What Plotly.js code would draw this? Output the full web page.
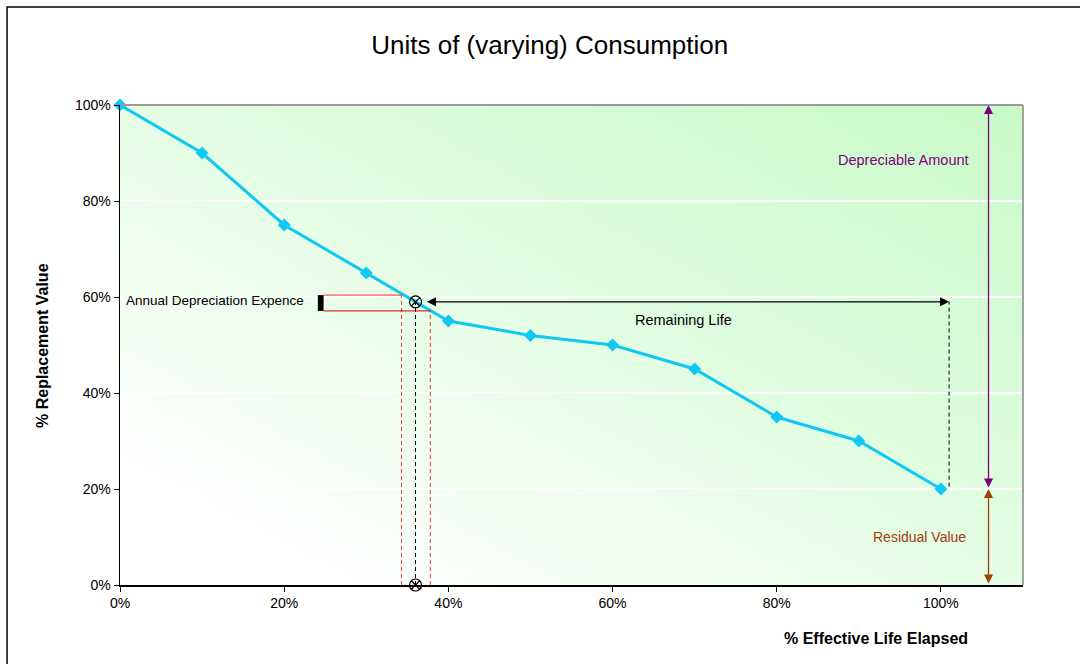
<!DOCTYPE html>
<html>
<head>
<meta charset="utf-8">
<script src="https://cdn.plot.ly/plotly-3.0.1.min.js"></script>
<style>
html,body{margin:0;padding:0;background:#fff;}
#chart{width:1080px;height:664px;}
</style>
</head>
<body>
<div id="chart"></div>
<script>
// Data
var lifeElapsed = [0, 0.1, 0.2, 0.3, 0.4, 0.5, 0.6, 0.7, 0.8, 0.9, 1.0];
var replacementValue = [1.0, 0.9, 0.75, 0.65, 0.55, 0.52, 0.50, 0.45, 0.35, 0.30, 0.20];
var currentPoint = [0.36, 0.59];
var residualValue = 0.20;
var xTickVals = [0, 0.2, 0.4, 0.6, 0.8, 1.0];
var xTickText = ['0%', '20%', '40%', '60%', '80%', '100%'];
var yTickVals = [0, 0.2, 0.4, 0.6, 0.8, 1.0];
var yTickText = ['0%', '20%', '40%', '60%', '80%', '100%'];

// gradient background image (white bottom-left -> light green top-right)
var W = 301, H = 160;
var cv = document.createElement('canvas');
cv.width = W; cv.height = H;
var ctx = cv.getContext('2d');
var img = ctx.createImageData(W, H);
function lerp(a, b, t) { return a + (b - a) * t; }
for (var j = 0; j < H; j++) {
  for (var i = 0; i < W; i++) {
    var u = i / (W - 1), v = 1 - j / (H - 1);
    var t = (u + v) / 2;
    var r, gg, b;
    if (t < 0.12) { r = 255; gg = 255; b = 255; }
    else if (t < 0.5) { var s = (t - 0.12) / 0.38; r = lerp(255, 228, s); gg = lerp(255, 253, s); b = lerp(255, 228, s); }
    else { var s2 = (t - 0.5) / 0.5; r = lerp(228, 200, s2); gg = lerp(253, 250, s2); b = lerp(228, 200, s2); }
    var k = (j * W + i) * 4;
    img.data[k] = r; img.data[k + 1] = gg; img.data[k + 2] = b; img.data[k + 3] = 255;
  }
}
ctx.putImageData(img, 0, 0);
var bgImg = cv.toDataURL('image/png');

var font = 'Liberation Sans, Arial, sans-serif';

var traces = [
  {
    x: lifeElapsed, y: replacementValue, type: 'scatter', mode: 'lines+markers',
    line: {color: '#11c8f5', width: 3},
    marker: {symbol: 'diamond', size: 10, color: '#11c8f5'},
    cliponaxis: false, hoverinfo: 'none'
  },
  {
    x: [currentPoint[0], currentPoint[0]], y: [currentPoint[1], 0], type: 'scatter', mode: 'markers',
    marker: {symbol: 'circle-x-open', size: 12, color: '#000', line: {width: 1.2, color: '#000'}},
    cliponaxis: false, hoverinfo: 'none'
  }
];

var shapes = [
  // outer frame
  {type: 'rect', xref: 'paper', yref: 'paper', x0: -0.1251, x1: 1.2, y0: -0.3, y1: 1.2042, line: {color: '#000', width: 1.5}, layer: 'below'},
  // top and right border of plot
  {type: 'line', xref: 'paper', yref: 'paper', x0: 0, x1: 1, y0: 1, y1: 1, line: {color: '#9a9a9a', width: 1.8}},
  {type: 'line', xref: 'paper', yref: 'paper', x0: 1, x1: 1, y0: 0, y1: 1, line: {color: '#9a9a9a', width: 1.8}},
  // black dashed vertical at current point
  {type: 'line', x0: currentPoint[0], x1: currentPoint[0], y0: 0, y1: currentPoint[1], line: {color: '#000', width: 1, dash: '4px,3px'}},
  // red dashed verticals
  {type: 'line', x0: 0.343, x1: 0.343, y0: 0, y1: 0.604, line: {color: '#ff3030', width: 1, dash: '4px,3px'}},
  {type: 'line', x0: 0.378, x1: 0.378, y0: 0, y1: 0.571, line: {color: '#ff3030', width: 1, dash: '4px,3px'}},
  // red solid horizontals
  {type: 'line', x0: 0.248, x1: 0.343, y0: 0.604, y1: 0.604, line: {color: '#ff3333', width: 1}},
  {type: 'line', x0: 0.248, x1: 0.378, y0: 0.571, y1: 0.571, line: {color: '#cc0000', width: 1}},
  // black block
  {type: 'rect', x0: 0.241, x1: 0.248, y0: 0.571, y1: 0.604, fillcolor: '#000', line: {width: 0}},
  // black dashed vertical at remaining life end
  {type: 'line', x0: 1.01, x1: 1.01, y0: residualValue + 0.005, y1: currentPoint[1], line: {color: '#000', width: 1, dash: '4px,3px'}}
];

function dblArrow(x0, y0, x1, y1, color) {
  return {x: x1, y: y1, ax: x0, ay: y0, xref: 'x', yref: 'y', axref: 'x', ayref: 'y',
    showarrow: true, arrowhead: 2, startarrowhead: 2, arrowside: 'end+start', arrowsize: 1.4, startarrowsize: 1.4,
    arrowwidth: 1.3, arrowcolor: color, text: ''};
}

var annotations = [
  dblArrow(0.372, currentPoint[1], 1.01, currentPoint[1], '#000'),
  dblArrow(1.058, residualValue, 1.058, 1.0, '#800080'),
  dblArrow(1.058, 0, 1.058, residualValue, '#a0400a'),
  {x: 0.227, y: 0.593, xref: 'x', yref: 'y', text: 'Annual Depreciation Expence', showarrow: false, xanchor: 'right',
   font: {family: font, size: 13.5, color: '#000'}},
  {x: 0.687, y: 0.552, xref: 'x', yref: 'y', text: 'Remaining Life', showarrow: false, xanchor: 'center',
   font: {family: font, size: 14.5, color: '#000'}},
  {x: 0.955, y: 0.885, xref: 'x', yref: 'y', text: 'Depreciable Amount', showarrow: false, xanchor: 'center',
   font: {family: font, size: 14.5, color: '#800080'}},
  {x: 0.974, y: 0.1, xref: 'x', yref: 'y', text: 'Residual Value', showarrow: false, xanchor: 'center',
   font: {family: font, size: 14, color: '#a0400a'}},
  {x: 0.921, y: -0.111, xref: 'x', yref: 'paper', text: '<b>% Effective Life Elapsed</b>', showarrow: false,
   font: {family: font, size: 16, color: '#000'}, xanchor: 'center', yanchor: 'middle'},
  {x: -0.0864, y: 0.5, xref: 'paper', yref: 'y', text: '<b>% Replacement Value</b>', showarrow: false, textangle: -90,
   font: {family: font, size: 16, color: '#000'}, xanchor: 'center', yanchor: 'middle'}
];

var layout = {
  width: 1080, height: 664,
  margin: {l: 120, r: 57, t: 105, b: 79},
  paper_bgcolor: '#fff',
  plot_bgcolor: 'rgba(0,0,0,0)',
  showlegend: false,
  title: {text: 'Units of (varying) Consumption', x: 0.509, xanchor: 'center', y: 0.933, yanchor: 'middle',
    font: {family: font, size: 26, color: '#000'}},
  xaxis: {range: [0, 1.1], tickvals: xTickVals, ticktext: xTickText, showgrid: false, zeroline: false,
    showline: true, linecolor: '#000', linewidth: 1.5, ticks: 'outside', ticklen: 5, tickcolor: '#000',
    tickfont: {family: font, size: 14, color: '#000'}, fixedrange: true},
  yaxis: {range: [0, 1], tickvals: yTickVals, ticktext: yTickText, showgrid: true, gridcolor: '#ffffff', gridwidth: 1.2,
    zeroline: false, showline: true, linecolor: '#000', linewidth: 1.5, ticks: 'outside', ticklen: 5, tickcolor: '#000',
    tickfont: {family: font, size: 14, color: '#000'}, fixedrange: true},
  images: [{source: bgImg, xref: 'paper', yref: 'paper', x: 0, y: 1, sizex: 1, sizey: 1, sizing: 'stretch', layer: 'below'}],
  shapes: shapes,
  annotations: annotations
};

Plotly.newPlot('chart', traces, layout, {displayModeBar: false, staticPlot: true});
</script>
</body>
</html>
